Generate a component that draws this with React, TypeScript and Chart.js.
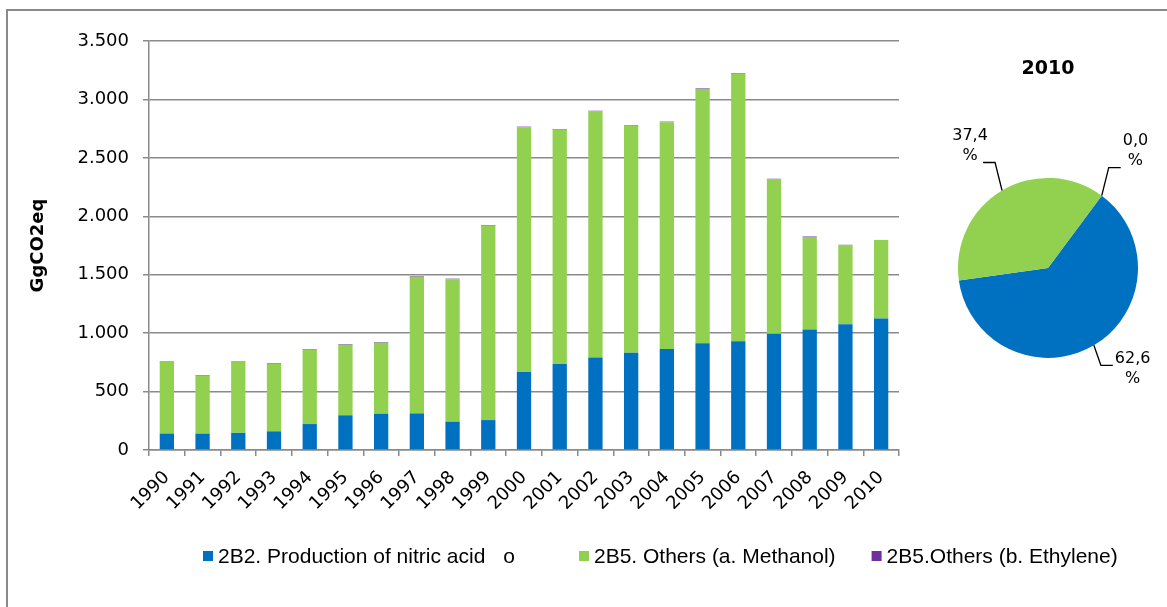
import React, { useEffect, useRef } from 'react';
import { Chart, registerables } from 'chart.js';

Chart.register(...registerables);

const years = ['1990', '1991', '1992', '1993', '1994', '1995', '1996', '1997', '1998', '1999', '2000', '2001', '2002', '2003', '2004', '2005', '2006', '2007', '2008', '2009', '2010'];
const nitricAcid = [140, 140, 147, 160, 222, 297, 309, 313, 243, 256, 668, 735, 791, 833, 864, 913, 930, 995, 1032, 1077, 1125];
const methanol = [612, 495, 605, 578, 636, 604, 609, 1170, 1218, 1662, 2094, 2007, 2107, 1943, 1941, 2176, 2290, 1321, 790, 674, 672];
const ethylene = [5, 5, 5, 5, 5, 5, 5, 5, 5, 5, 5, 5, 5, 5, 5, 5, 5, 5, 5, 5, 0.5];
const seriesLabels = ['2B2. Production of nitric acid', 'o', '2B5. Others (a. Methanol)', '2B5.Others (b. Ethylene)'];
const seriesColors = ['#0070C0', '#FFFFFF', '#92D050', '#7030A0'];
const yMin = 0;
const yMax = 3500;
const yStep = 500;
const yAxisTitle = 'GgCO2eq';

const GRID = '#8a8a8a';
const FONT = '"DejaVu Sans", Verdana, sans-serif';

function fmtThousands(v: number): string {
  const n = Math.round(v);
  if (n >= 1000) {
    return Math.floor(n / 1000) + '.' + String(n % 1000).padStart(3, '0');
  }
  return String(n);
}

const legendPlugin = {
  id: 'customLegend',
  afterDraw(chart: any) {
    const ctx = chart.ctx as CanvasRenderingContext2D;
    ctx.save();
    ctx.font = '21px "Liberation Sans", Arial, sans-serif';
    ctx.textBaseline = 'middle';
    ctx.textAlign = 'left';
    const box = 10;
    const gapText = 5;
    const gaps = [3, 64, 36];
    const items = chart.data.datasets.map((d: any) => ({ text: d.label as string, color: d.backgroundColor as string }));
    const y = 556;
    let x = 203;
    items.forEach((it: any, i: number) => {
      ctx.fillStyle = it.color;
      ctx.fillRect(x, y - box / 2, box, box);
      ctx.fillStyle = '#000';
      ctx.fillText(it.text, x + box + gapText, y + 1);
      x += box + gapText + ctx.measureText(it.text).width + (gaps[i] ?? 0);
    });
    ctx.restore();
  },
};

const pieLabelPlugin = {
  id: 'pieLabels',
  afterDraw(chart: any) {
    const ctx = chart.ctx as CanvasRenderingContext2D;
    const meta = chart.getDatasetMeta(0);
    const values: number[] = chart.data.datasets[0].data;
    const total = values.reduce((a, b) => a + b, 0);
    ctx.save();
    ctx.font = '16px ' + FONT;
    ctx.textAlign = 'center';
    ctx.textBaseline = 'middle';
    ctx.strokeStyle = '#000';
    ctx.lineWidth = 1.3;
    meta.data.forEach((arc: any, i: number) => {
      const { x, y, startAngle, endAngle, outerRadius } = arc.getProps(['x', 'y', 'startAngle', 'endAngle', 'outerRadius'], true);
      const mid = (startAngle + endAngle) / 2;
      const ex = x + Math.cos(mid) * outerRadius;
      const ey = y + Math.sin(mid) * outerRadius;
      const sx = Math.cos(mid) >= 0 ? 1 : -1;
      const sy = Math.sin(mid) >= 0 ? 1 : -1;
      const bx = ex + sx * 7;
      const by = ey + (sy < 0 ? -28 : 20);
      const hx = bx + sx * 12;
      ctx.beginPath();
      ctx.moveTo(ex, ey);
      ctx.lineTo(bx, by);
      ctx.lineTo(hx, by);
      ctx.stroke();
      const pct = ((values[i] / total) * 100).toFixed(1).replace('.', ',');
      const w = Math.max(ctx.measureText(pct).width, ctx.measureText('%').width);
      const cx = sx < 0 ? hx - 13 : hx + 2 + w / 2;
      ctx.fillStyle = '#000';
      if (sy < 0) {
        ctx.fillText(pct, cx, by - 27);
        ctx.fillText('%', cx, by - 7);
      } else {
        ctx.fillText(pct, cx, by - 6);
        ctx.fillText('%', cx, by + 14);
      }
    });
    ctx.restore();
  },
};

export default function App() {
  const barRef = useRef<HTMLCanvasElement>(null);
  const pieRef = useRef<HTMLCanvasElement>(null);

  useEffect(() => {
    if (!barRef.current || !pieRef.current) return;
    const bar = new Chart(barRef.current, {
      type: 'bar',
      data: {
        labels: years,
        datasets: [
          { label: seriesLabels[0], data: nitricAcid, backgroundColor: seriesColors[0] },
          { label: seriesLabels[1], data: [], backgroundColor: seriesColors[1] },
          { label: seriesLabels[2], data: methanol, backgroundColor: seriesColors[2] },
          { label: seriesLabels[3], data: ethylene, backgroundColor: seriesColors[3] },
        ],
      },
      options: {
        responsive: true,
        maintainAspectRatio: false,
        animation: false,
        layout: { padding: { top: 41, right: 268, left: 0, bottom: 0 } },
        datasets: { bar: { barPercentage: 0.4, categoryPercentage: 1, borderWidth: 0 } },
        plugins: { legend: { display: false }, tooltip: { enabled: false } },
        scales: {
          x: {
            stacked: true,
            grid: { display: true, drawOnChartArea: false, drawTicks: true, tickLength: 6, color: GRID, lineWidth: 1.5 },
            border: { display: true, color: GRID, width: 1.5 },
            ticks: { font: { family: FONT, size: 18 }, color: '#000', maxRotation: 45, minRotation: 45, padding: 11, autoSkip: false },
            afterFit: (s: any) => { s.height = 157; },
          },
          y: {
            stacked: true,
            min: yMin,
            max: yMax,
            ticks: { stepSize: yStep, callback: (v: any) => fmtThousands(Number(v)), font: { family: FONT, size: 18 }, color: '#000', padding: 14 },
            grid: { color: GRID, lineWidth: 1.5, tickLength: 6 },
            border: { color: GRID, width: 1.5 },
            title: { display: true, text: yAxisTitle, font: { family: FONT, size: 18, weight: 'bold' }, color: '#000', padding: { top: 28, bottom: 0 } },
            afterFit: (s: any) => { s.width = 149; },
          },
        },
      } as any,
      plugins: [legendPlugin],
    });

    const last = years.length - 1;
    const pie = new Chart(pieRef.current, {
      type: 'pie',
      data: {
        labels: [seriesLabels[0], seriesLabels[2], seriesLabels[3]],
        datasets: [{
          data: [nitricAcid[last], methanol[last], ethylene[last]],
          backgroundColor: [seriesColors[0], seriesColors[2], seriesColors[3]],
          borderWidth: 0,
          hoverOffset: 0,
        }],
      },
      options: {
        responsive: true,
        maintainAspectRatio: false,
        animation: false,
        rotation: 36.7,
        layout: { padding: { left: 38, right: 29, top: 0, bottom: 102 } },
        plugins: {
          legend: { display: false },
          tooltip: { enabled: false },
          title: { display: true, text: years[last], font: { family: FONT, size: 19, weight: 'bold' }, color: '#000', padding: { top: 18, bottom: 97 } },
        },
      } as any,
      plugins: [pieLabelPlugin],
    });

    return () => { bar.destroy(); pie.destroy(); };
  }, []);

  return (
    <div style={{ position: 'fixed', left: 0, top: 0, width: 1167, height: 607, overflow: 'hidden', background: '#fff' }}>
      <div style={{ position: 'absolute', left: 6, top: 9, width: 1300, height: 700, border: '2px solid #8a8a8a' }} />
      <div style={{ position: 'absolute', left: 0, top: 0, width: 1167, height: 607 }}>
        <canvas ref={barRef} />
      </div>
      <div style={{ position: 'absolute', left: 920, top: 40, width: 247, height: 420 }}>
        <canvas ref={pieRef} />
      </div>
    </div>
  );
}
